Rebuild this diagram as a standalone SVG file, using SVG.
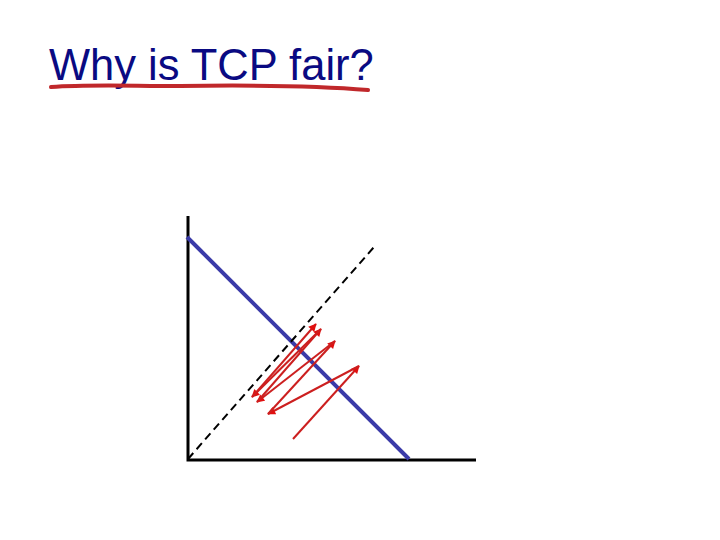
<svg xmlns="http://www.w3.org/2000/svg" width="720" height="540" viewBox="0 0 720 540">
<defs>
<style>
.title{font-family:"Liberation Sans",Arial,sans-serif;font-size:43.5px;fill:#0a0a82}
.axis{stroke:#000;stroke-width:3;fill:none}
.red{stroke:#cc1f1f;stroke-width:2;fill:none;marker-end:url(#ah)}
</style>
<marker id="ah" viewBox="0 0 10 10" refX="9" refY="5" markerWidth="5" markerHeight="4" orient="auto" markerUnits="strokeWidth">
<path d="M0,0 L10,5 L0,10 z" fill="#e01010"/>
</marker>
</defs>
<rect width="720" height="540" fill="#fff"/>
<g id="title">
<text class="title" x="49" y="80">Why is TCP fair?</text>
<path d="M51,87 C90,84 130,86 180,86 C250,85 320,86 368,90" stroke="#c0282b" stroke-width="4" fill="none" stroke-linecap="round"/>
</g>
<g id="axes">
<path class="axis" d="M188,216 L188,460 L476,460"/>
</g>
<g id="connectors">
<line x1="187" y1="237" x2="409" y2="459" stroke="#3a3aa8" stroke-width="4"/>
<line x1="188" y1="459" x2="374" y2="247" stroke="#000" stroke-width="2" stroke-dasharray="8,5"/>
<line class="red" x1="293" y1="439" x2="359" y2="366"/>
<line class="red" x1="359" y1="366" x2="268" y2="414"/>
<line class="red" x1="268" y1="414" x2="335" y2="341"/>
<line class="red" x1="335" y1="341" x2="257" y2="402"/>
<line class="red" x1="257" y1="402" x2="321" y2="329"/>
<line class="red" x1="321" y1="329" x2="252" y2="397"/>
<line class="red" x1="252" y1="397" x2="316" y2="324"/>
</g>
</svg>
